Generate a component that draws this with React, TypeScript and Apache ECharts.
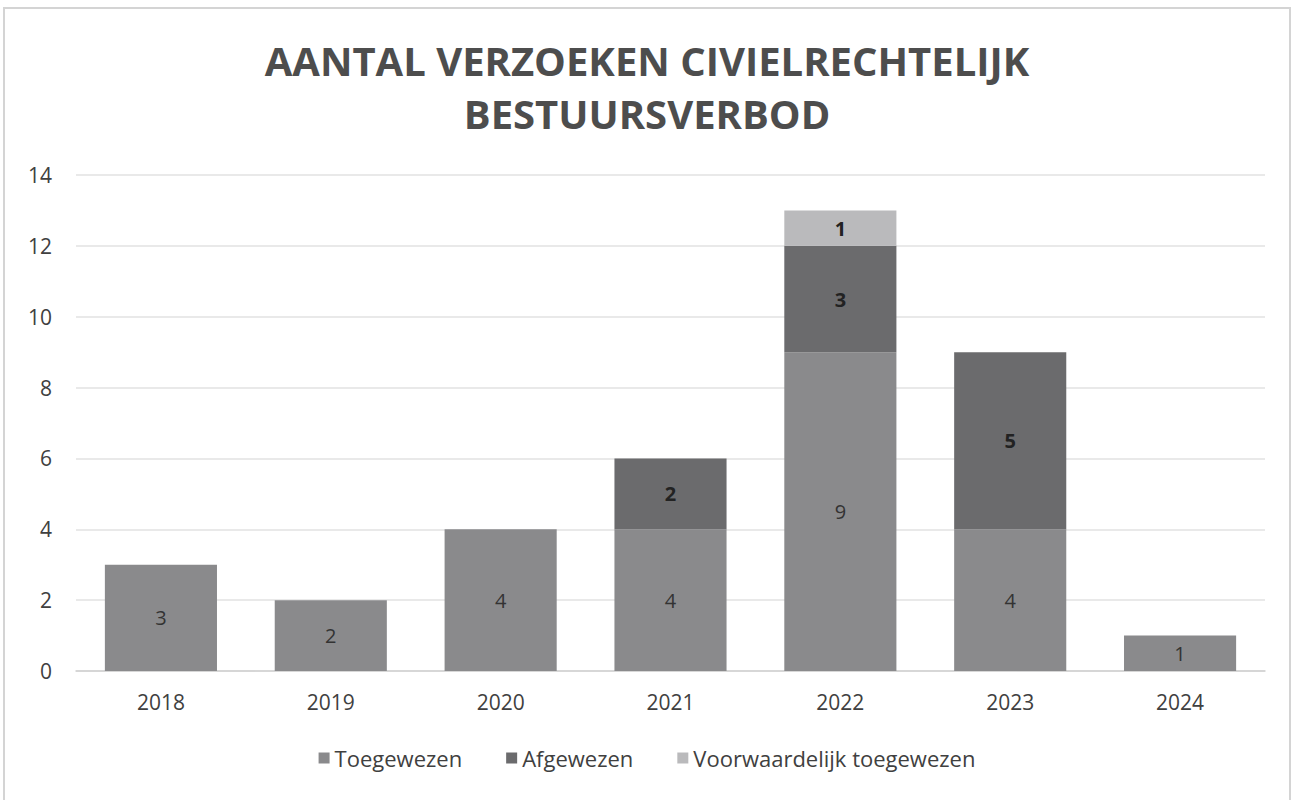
import React, { useEffect, useRef } from "react";
import * as echarts from "echarts";

const categories = ["2018", "2019", "2020", "2021", "2022", "2023", "2024"];
const toegewezen = [3, 2, 4, 4, 9, 4, 1];
const afgewezen = [null, null, null, 2, 3, 5, null];
const voorwaardelijk = [null, null, null, null, 1, null, null];
const yTicks = [0, 2, 4, 6, 8, 10, 12, 14];

const FONT = "'Open Sans', 'Noto Sans', sans-serif";

export default function App() {
  const ref = useRef<HTMLDivElement>(null);
  useEffect(() => {
    if (!ref.current) return;
    const chart = echarts.init(ref.current, undefined, { renderer: "svg" });
    const labelBase = {
      show: true,
      position: "inside",
      fontFamily: FONT,
      fontSize: 20,
      color: "#333333",
    };
    chart.setOption({
      animation: false,
      backgroundColor: "#ffffff",
      graphic: [
        {
          type: "rect",
          shape: { x: 4, y: 8, width: 1286, height: 800 },
          style: { fill: "none", stroke: "#d4d4d4", lineWidth: 2 },
          silent: true,
        },
      ],
      title: {
        text: "AANTAL VERZOEKEN CIVIELRECHTELIJK\nBESTUURSVERBOD",
        left: "center",
        top: 29,
        textStyle: {
          fontFamily: FONT,
          fontSize: 40,
          fontWeight: "bold",
          color: "#4d4d4d",
          lineHeight: 53,
        },
      },
      legend: {
        bottom: 26,
        left: "center",
        itemWidth: 11,
        itemHeight: 11,
        itemGap: 44,
        icon: "rect",
        textStyle: { fontFamily: FONT, fontSize: 22, color: "#404040" },
        data: ["Toegewezen", "Afgewezen", "Voorwaardelijk toegewezen"],
      },
      grid: { left: 76, right: 29, top: 175, bottom: 129, containLabel: false },
      xAxis: {
        type: "category",
        data: categories,
        axisLine: { lineStyle: { color: "#d0d0d0", width: 1.5 } },
        axisTick: { show: false },
        axisLabel: { fontFamily: FONT, fontSize: 21, color: "#404040", margin: 20 },
      },
      yAxis: {
        type: "value",
        min: 0,
        max: yTicks[yTicks.length - 1],
        interval: 2,
        axisLine: { show: false },
        axisTick: { show: false },
        axisLabel: { fontFamily: FONT, fontSize: 21, color: "#404040", margin: 24 },
        splitLine: { lineStyle: { color: "#e2e2e2", width: 1.5 } },
      },
      series: [
        {
          name: "Toegewezen",
          type: "bar",
          stack: "total",
          data: toegewezen,
          barWidth: "66%",
          itemStyle: { color: "#8a8a8c" },
          label: { ...labelBase },
        },
        {
          name: "Afgewezen",
          type: "bar",
          stack: "total",
          data: afgewezen,
          itemStyle: { color: "#6b6b6d" },
          label: { ...labelBase, fontWeight: "bold", color: "#222222" },
        },
        {
          name: "Voorwaardelijk toegewezen",
          type: "bar",
          stack: "total",
          data: voorwaardelijk,
          itemStyle: { color: "#bababc" },
          label: { ...labelBase, fontWeight: "bold", color: "#222222" },
        },
      ],
    });
    return () => chart.dispose();
  }, []);
  return (
    <div
      ref={ref}
      style={{ position: "absolute", left: 0, top: 0, width: 1294, height: 800 }}
    />
  );
}
